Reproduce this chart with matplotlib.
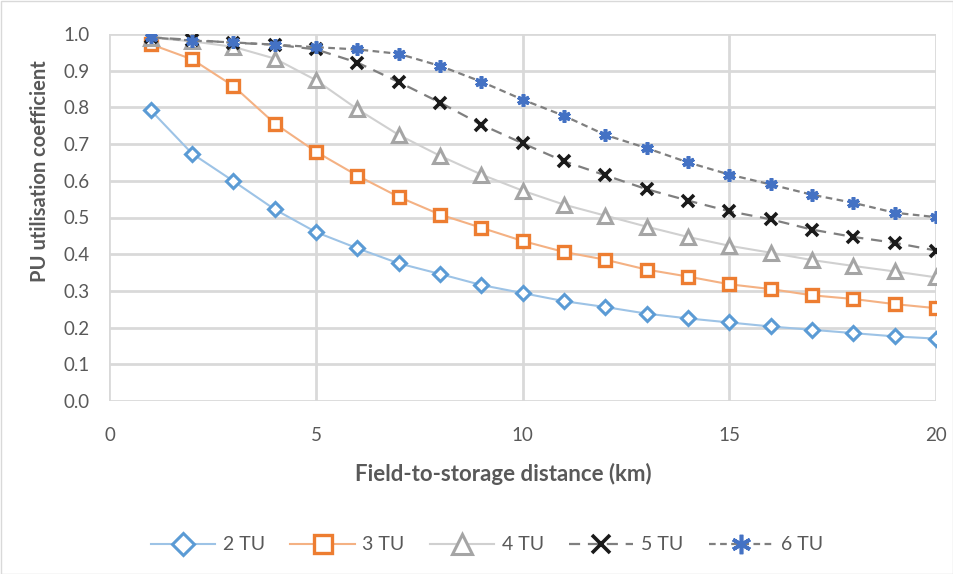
import matplotlib
matplotlib.use("Agg")
import matplotlib.pyplot as plt
from matplotlib.patches import Rectangle

plt.rcParams['font.family'] = ['Lato', 'DejaVu Sans']

distance = list(range(1, 21))
tu2 = [0.792, 0.674, 0.599, 0.522, 0.460, 0.416, 0.375, 0.346, 0.316, 0.294,
       0.272, 0.256, 0.238, 0.225, 0.214, 0.203, 0.194, 0.185, 0.176, 0.170]
tu3 = [0.972, 0.931, 0.858, 0.756, 0.679, 0.614, 0.556, 0.508, 0.472, 0.436,
       0.406, 0.385, 0.358, 0.339, 0.318, 0.305, 0.288, 0.278, 0.264, 0.253]
tu4 = [0.990, 0.980, 0.965, 0.933, 0.874, 0.795, 0.725, 0.668, 0.617, 0.573,
       0.535, 0.505, 0.475, 0.447, 0.423, 0.404, 0.384, 0.368, 0.353, 0.337]
tu5 = [0.991, 0.984, 0.976, 0.971, 0.958, 0.922, 0.869, 0.813, 0.753, 0.702,
       0.653, 0.615, 0.577, 0.546, 0.517, 0.495, 0.467, 0.447, 0.431, 0.410]
tu6 = [0.991, 0.982, 0.977, 0.971, 0.964, 0.958, 0.946, 0.913, 0.870, 0.821,
       0.777, 0.725, 0.689, 0.650, 0.617, 0.590, 0.562, 0.540, 0.513, 0.501]
labels = ['2 TU', '3 TU', '4 TU', '5 TU', '6 TU']

fig = plt.figure(figsize=(9.54, 5.74), dpi=100)
W, H = 954, 574
ax = fig.add_axes([109.5 / W, 1 - 401 / H, (936 - 109.5) / W, (401 - 34) / H])

grid_c = '#d9d9d9'
txt_c = '#595959'

ax.plot(distance, tu2, color='#9dc3e6', lw=1.5, marker='D', ms=7, mfc='white',
        mec='#5b9bd5', mew=2.2, label=labels[0], zorder=3)
ax.plot(distance, tu3, color='#f4b183', lw=1.5, marker='s', ms=8.5, mfc='white',
        mec='#ed7d31', mew=2.4, label=labels[1], zorder=3)
ax.plot(distance, tu4, color='#d0d0d0', lw=1.5, marker='^', ms=10, mfc='white',
        mec='#a5a5a5', mew=2.2, label=labels[2], zorder=3)
ax.plot(distance, tu5, color='#7f7f7f', lw=1.6, ls=(0, (5, 3.5)), marker='x', ms=8,
        mec='#1a1a1a', mew=2.6, label=labels[3], zorder=4)
ax.plot(distance, tu6, color='#7f7f7f', lw=1.6, ls=(0, (3, 2)), marker=(6, 2, 0), ms=9,
        mec='#4472c4', mew=2.6, label=labels[4], zorder=5)

ax.set_xlim(0, 20)
ax.set_ylim(0, 1.0)
ax.set_xticks([0, 5, 10, 15, 20])
ax.set_yticks([i / 10 for i in range(11)])
ax.set_yticklabels([f'{i / 10:.1f}' for i in range(11)])
ax.grid(True, color=grid_c, lw=2)
ax.set_axisbelow(True)
for s in ax.spines.values():
    s.set_visible(False)
ax.tick_params(length=0, labelsize=13.5, colors=txt_c)
ax.tick_params(axis='x', pad=19)
ax.tick_params(axis='y', pad=14)
ax.set_xlabel('Field-to-storage distance (km)', fontsize=16, fontweight='bold',
              color=txt_c)
ax.xaxis.set_label_coords((503 - 109.5) / 826.5, -(463 - 401) / 367)
ax.set_ylabel('PU utilisation coefficient', fontsize=14.5, fontweight='bold',
              color=txt_c)
ax.yaxis.set_label_coords(-(109.5 - 50) / 826.5, (401 - 171) / 367)

leg = fig.legend(loc='center', bbox_to_anchor=(487 / W, 1 - 545 / H), ncol=5,
                 frameon=False, fontsize=14, handlelength=3.3, columnspacing=1.3,
                 handletextpad=0.4)
for t in leg.get_texts():
    t.set_color(txt_c)
for h, ms in zip(leg.legend_handles, [11, 12.5, 14, 13, 14]):
    h.set_markersize(ms)

fig.patches.append(Rectangle((0.5 / W, 0.5 / H), 1 - 1.5 / W, 1 - 1.5 / H,
                             transform=fig.transFigure, fill=False,
                             edgecolor='#d9d9d9', lw=1))

fig.savefig('out.png', dpi=100)
